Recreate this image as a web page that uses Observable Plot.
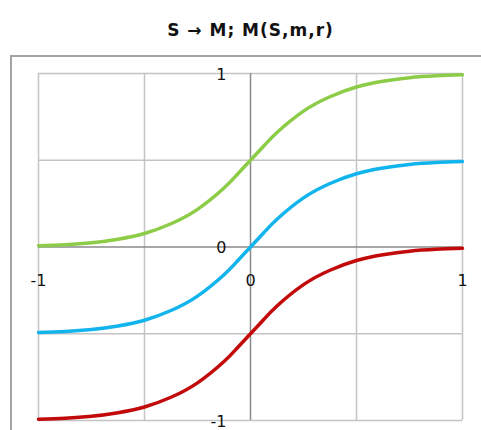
<!DOCTYPE html>
<html>
<head>
<meta charset="utf-8">
<script src="https://cdn.jsdelivr.net/npm/d3@7"></script>
<script src="https://cdn.jsdelivr.net/npm/@observablehq/plot@0.6"></script>
<style>
  html, body { margin: 0; padding: 0; background: #fff; }
  body { width: 481px; height: 430px; overflow: hidden; position: relative; font-family: "DejaVu Sans", sans-serif; }
  #title { position: absolute; top: 0; left: 20px; width: 461px; text-align: center;
           font: bold 17px "DejaVu Sans", sans-serif; letter-spacing: 1px; line-height: 18px; padding-top: 21px; color: #111; }
  #frame { position: absolute; left: 10px; top: 55px; width: 700px; height: 700px; border: 2px solid #a3a3a3; }
  #chart { position: absolute; left: 0; top: 45px; }
</style>
</head>
<body>
<div id="frame"></div>
<div id="title">S → M; M(S,m,r)</div>
<div id="chart"></div>
<script>
// x positions of the sampled points
const xs    = [-1, -0.875, -0.75, -0.625, -0.5, -0.375, -0.25, -0.125, -0.0625, 0, 0.0625, 0.125, 0.25, 0.375, 0.5, 0.625, 0.75, 0.875, 1];
// series values
const green = [0.007, 0.013, 0.024, 0.045, 0.078, 0.134, 0.217, 0.34, 0.418, 0.5, 0.582, 0.66, 0.783, 0.866, 0.922, 0.955, 0.976, 0.987, 0.993];
const blue  = [-0.493, -0.487, -0.476, -0.455, -0.422, -0.366, -0.283, -0.16, -0.082, 0, 0.082, 0.16, 0.283, 0.366, 0.422, 0.455, 0.476, 0.487, 0.493];
const red   = [-0.993, -0.987, -0.976, -0.955, -0.922, -0.866, -0.783, -0.66, -0.582, -0.5, -0.418, -0.34, -0.217, -0.134, -0.078, -0.045, -0.024, -0.013, -0.007];

const xTicks = [-1, 0, 1];
const xTickLabels = ["-1", "0", "1"];
const yTicks = [1, 0, -1];
const yTickLabels = ["1", "0", "-1"];
const gridX = [-1, -0.5, 0.5, 1];
const gridY = [1, 0.5, -0.5, -1];

const mk = (ys) => xs.map((x, i) => ({x, y: ys[i]}));

const chart = Plot.plot({
  width: 481,
  height: 385,
  marginLeft: 38,
  marginRight: 19,
  marginTop: 28,
  marginBottom: 10,
  x: {domain: [-1, 1], axis: null},
  y: {domain: [-1, 1], axis: null},
  style: {fontFamily: "DejaVu Sans, sans-serif", fontSize: "16px", background: "transparent"},
  marks: [
    Plot.ruleX(gridX, {x: d => d, stroke: "#c4c4c4", strokeWidth: 1.5, strokeOpacity: 1}),
    Plot.ruleY(gridY, {y: d => d, stroke: "#c4c4c4", strokeWidth: 1.5, strokeOpacity: 1}),
    Plot.ruleX([0], {x: d => d, stroke: "#8a8a8a", strokeWidth: 1.5, strokeOpacity: 1}),
    Plot.ruleY([0], {y: d => d, stroke: "#8a8a8a", strokeWidth: 1.5, strokeOpacity: 1}),
    Plot.line(mk(green), {x: "x", y: "y", stroke: "#8ccc46", strokeWidth: 3.5, curve: "natural"}),
    Plot.line(mk(blue), {x: "x", y: "y", stroke: "#12b4ee", strokeWidth: 3.5, curve: "natural"}),
    Plot.line(mk(red), {x: "x", y: "y", stroke: "#c20a0a", strokeWidth: 3.5, curve: "natural"}),
    Plot.text(yTicks, {x: () => 0, y: d => d, text: (d, i) => yTickLabels[i], textAnchor: "end", dx: -24, dy: 1, fill: "#111", fontSize: 16}),
    Plot.text(xTicks, {x: d => d, y: () => 0, text: (d, i) => xTickLabels[i], dy: 34, fill: "#111", fontSize: 16})
  ]
});
document.getElementById("chart").appendChild(chart);
</script>
</body>
</html>
